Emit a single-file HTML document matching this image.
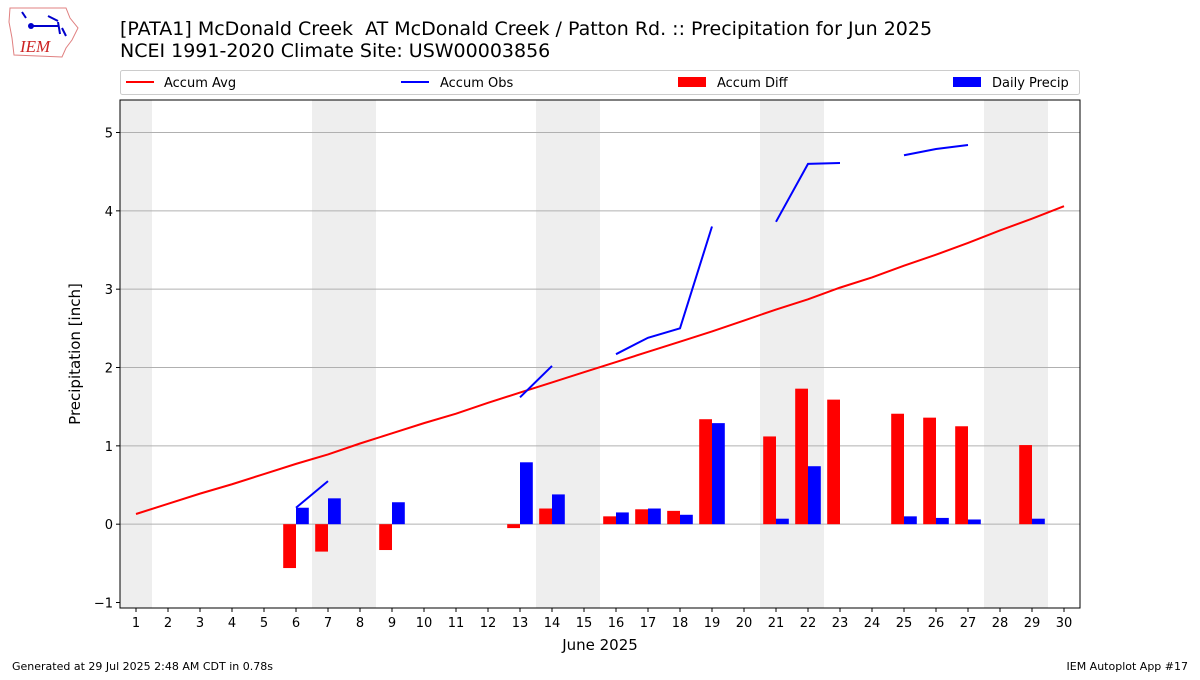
<!DOCTYPE html>
<html><head><meta charset="utf-8"><style>
body{margin:0;background:#fff;font-family:"Liberation Sans","DejaVu Sans",sans-serif}
svg text{font-family:"DejaVu Sans","Liberation Sans",sans-serif;white-space:pre}
</style></head><body>
<svg id="c" width="1200" height="675" viewBox="0 0 1200 675" xmlns="http://www.w3.org/2000/svg">
<g>
<path d="M10,8 L66,8 L70,18 L78,28 L72,40 L66,48 L62,57 L14,55 L12,38 L9,22 Z" fill="none" stroke="#e08080" stroke-width="1"/>
<path d="M22,12 L26,18 M30,26 L58,26 M48,16 L58,21 M58,22 L60,34 M62,28 L66,36" stroke="#0000cc" stroke-width="2" fill="none"/>
<circle cx="31" cy="26" r="3" fill="#0000cc"/>
<text x="20" y="52" font-style="italic" font-size="17" fill="#cc2222" style="font-family:'Liberation Serif',serif">IEM</text>
</g>
<text x="120" y="35" font-size="19" xml:space="preserve">[PATA1] McDonald Creek&#160; AT McDonald Creek / Patton Rd. :: Precipitation for Jun 2025</text>
<text x="120" y="57" font-size="19">NCEI 1991-2020 Climate Site: USW00003856</text>
<g id="legend">
<rect x="120.5" y="70.5" width="959" height="24" fill="#fff" stroke="#ccc" rx="2"/>
<line x1="126" y1="82" x2="154" y2="82" stroke="red" stroke-width="2"/>
<text x="164" y="87" font-size="13">Accum Avg</text>
<line x1="401" y1="82" x2="429" y2="82" stroke="blue" stroke-width="2"/>
<text x="440" y="87" font-size="13">Accum Obs</text>
<rect x="678" y="77" width="28" height="10" fill="red"/>
<text x="717" y="87" font-size="13">Accum Diff</text>
<rect x="953" y="77" width="28" height="10" fill="blue"/>
<text x="992" y="87" font-size="13">Daily Precip</text>
</g>
<g id="plot"></g>
<text x="600" y="650" font-size="15" text-anchor="middle">June 2025</text>
<text transform="translate(80,354) rotate(-90)" font-size="15" text-anchor="middle">Precipitation [inch]</text>
<text x="12" y="670" font-size="11">Generated at 29 Jul 2025 2:48 AM CDT in 0.78s</text>
<text x="1188" y="670" font-size="11" text-anchor="end">IEM Autoplot App #17</text>
</svg>
<script>
const days=[1,2,3,4,5,6,7,8,9,10,11,12,13,14,15,16,17,18,19,20,21,22,23,24,25,26,27,28,29,30];
const accumAvg=[0.13,0.26,0.39,0.51,0.64,0.77,0.89,1.03,1.16,1.29,1.41,1.55,1.68,1.81,1.94,2.07,2.20,2.33,2.46,2.60,2.74,2.87,3.02,3.15,3.30,3.44,3.59,3.75,3.90,4.06];
const accumObs=[null,null,null,null,null,0.21,0.55,null,null,null,null,null,1.62,2.02,null,2.17,2.38,2.50,3.80,null,3.86,4.60,4.61,null,4.71,4.79,4.84,null,null,null];
const dailyPrecip=[0,0,0,0,0,0.21,0.33,0,0.28,0,0,0,0.79,0.38,0,0.15,0.20,0.12,1.29,0,0.07,0.74,0,0,0.10,0.08,0.06,0,0.07,0];
const accumDiff=[0,0,0,0,0,-0.56,-0.35,0,-0.33,0,0,0,-0.05,0.20,0,0.10,0.19,0.17,1.34,0,1.12,1.73,1.59,0,1.41,1.36,1.25,0,1.01,0];
const weekendDays=[1,7,8,14,15,21,22,28,29];
const yTicks=[-1,0,1,2,3,4,5];
const NS="http://www.w3.org/2000/svg";
const L=120,R=1080,T=100,B=608,xMin=0.5,xMax=30.5,yMin=-1.07,yMax=5.415;
const X=d=>L+(d-xMin)/(xMax-xMin)*(R-L);
const Y=v=>B-(v-yMin)/(yMax-yMin)*(B-T);
const g=document.getElementById('plot');
function mk(t,a){const e=document.createElementNS(NS,t);for(const k in a)e.setAttribute(k,a[k]);g.appendChild(e);return e;}
weekendDays.forEach(d=>{const e=mk('rect',{x:X(d-0.5),y:T,width:X(d+0.5)-X(d-0.5),height:B-T,fill:'#eeeeee'});

});
yTicks.forEach(v=>{if(v>=0){const e=mk('line',{x1:L,x2:R,y1:Y(v),y2:Y(v),stroke:'#b0b0b0','stroke-width':1});

}
mk('line',{x1:L-4,x2:L,y1:Y(v),y2:Y(v),stroke:'#000'});
const t=mk('text',{x:L-7,y:Y(v)+5,'font-size':13,'text-anchor':'end'});t.textContent=v<0?'\u2212'+(-v):v;

});
days.forEach((d,i)=>{
const w=X(0.4)-X(0);
const v1=accumDiff[i];if(v1!==0){const e=mk('rect',{x:X(d-0.4),y:Math.min(Y(v1),Y(0)),width:w,height:Math.abs(Y(v1)-Y(0)),fill:'red'});

}
const v2=dailyPrecip[i];if(v2!==0){const e=mk('rect',{x:X(d),y:Y(v2),width:w,height:Y(0)-Y(v2),fill:'blue'});

}
mk('line',{x1:X(d),x2:X(d),y1:B,y2:B+4,stroke:'#000'});
const t=mk('text',{x:X(d),y:B+19,'font-size':13,'text-anchor':'middle'});t.textContent=d;

});
const avg=mk('polyline',{points:days.map((d,i)=>X(d)+','+Y(accumAvg[i])).join(' '),fill:'none',stroke:'red','stroke-width':2});


let seg=[];const flush=()=>{if(seg.length>1){const e=mk('polyline',{points:seg.join(' '),fill:'none',stroke:'blue','stroke-width':2});

}seg=[];};
days.forEach((d,i)=>{if(accumObs[i]===null)flush();else seg.push(X(d)+','+Y(accumObs[i]));});flush();
mk('rect',{x:L,y:T,width:R-L,height:B-T,fill:'none',stroke:'#000','stroke-width':1});
</script>
</body></html>
